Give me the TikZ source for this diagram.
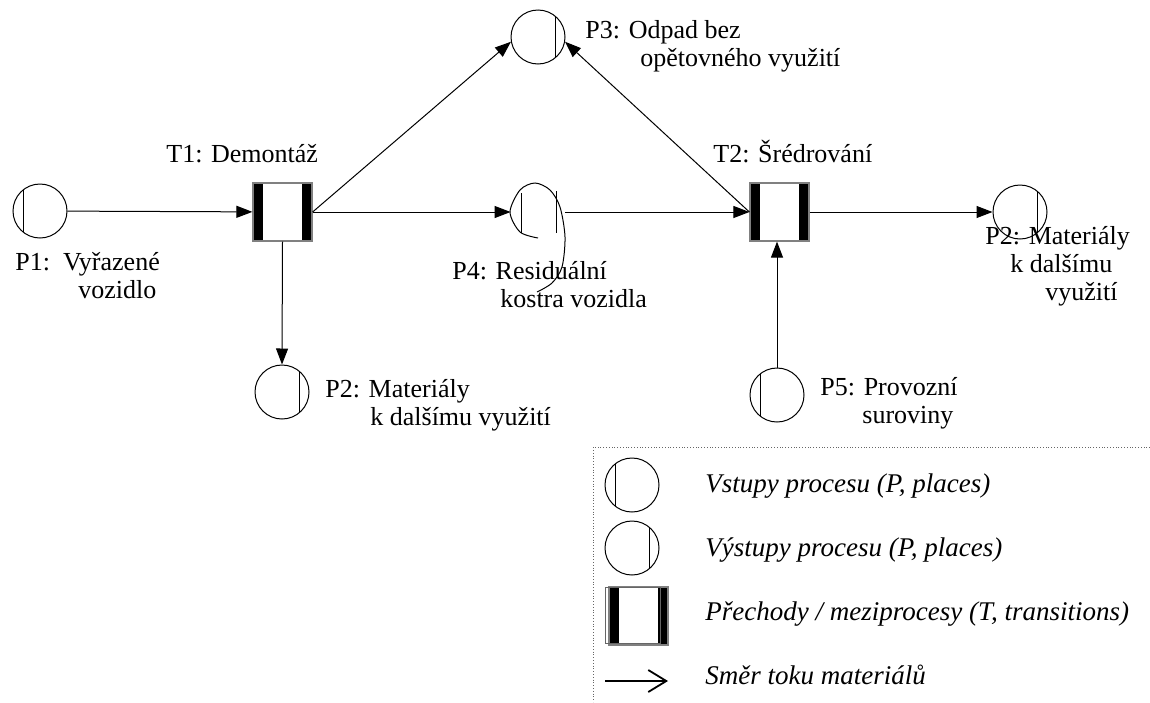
\documentclass[tikz,border=0pt]{standalone}
\usepackage{fontspec}
\setmainfont{Liberation Serif}
\usepackage{tikz}
\usetikzlibrary{arrows.meta,calc}

\begin{document}
\begin{tikzpicture}[
  x=0.5pt,y=-0.5pt,
  place/.style={circle,draw,line width=0.5pt,minimum size=27pt,inner sep=0pt},
  inplace/.style={place,path picture={\draw[line width=0.5pt]
      ([xshift=-8.5pt,yshift=-14pt]path picture bounding box.center) -- ++(0,28pt);}},
  outplace/.style={place,path picture={\draw[line width=0.5pt]
      ([xshift=8.5pt,yshift=-14pt]path picture bounding box.center) -- ++(0,28pt);}},
  trans/.style={rectangle,draw=black!50,line width=0.6pt,minimum width=29.5pt,
      minimum height=29pt,inner sep=0pt,
      path picture={\fill (path picture bounding box.north west) rectangle
          ([xshift=5pt]path picture bounding box.south west);
        \fill (path picture bounding box.north east) rectangle
          ([xshift=-5pt]path picture bounding box.south east);}},
  lbl/.style={anchor=base west,align=left,inner sep=0pt,font=\fontsize{13}{14}\selectfont},
  leglbl/.style={lbl,font=\fontsize{13.5}{14}\selectfont\itshape},
  flow/.style={-{Triangle[length=8pt,width=6pt]},line width=0.5pt},
  legarrow/.style={-{Straight Barb[length=9pt,width=11pt]},line width=0.9pt}
]
  \useasboundingbox (0,0) rectangle (1150,702);

  % places and transitions
  \node[inplace] (p1) at (40,211) {};
  \node[trans] (t1) at (282.5,212) {};
  \node[outplace] (p3) at (538,37) {};
  \node[circle,minimum size=27pt,inner sep=0pt] (p4) at (538,212) {};
  \node[trans] (t2) at (779.5,212) {};
  \node[outplace] (p2r) at (1020,212) {};
  \node[outplace] (p2b) at (282,392) {};
  \node[inplace] (p5) at (777,395) {};

  % the odd outline of P4
  \draw[line width=0.5pt] plot[smooth] coordinates {(538,238) (520,232) (510,212) (520,190)
    (535,183) (550,190) (560,207) (565,237) (562,267) (552,283) (537,292)};
  \draw[line width=0.5pt] (521,193) -- (521,233) (556,191) -- (556,233);

  % labels (anchor = baseline of the last line)
  \node[lbl] (t1lbl) at (166,162) {T1: Demontáž};
  \node[lbl] (t2lbl) at (713,162) {T2: Šrédrování};
  \node[lbl] (p1lbl) at (15,298) {P1:\ \ Vyřazené\\\hspace*{31.5pt}vozidlo};
  \node[lbl] (p3lbl) at (585,66) {P3: Odpad bez\\\hspace*{27.5pt}opětovného využití};
  \node[lbl] (p4lbl) at (452,307) {P4: Residuální\\\hspace*{24pt}kostra vozidla};
  \node[lbl] (p2blbl) at (325,425) {P2: Materiály\\\hspace*{22.5pt}k dalšímu využití};
  \node[lbl] (p5lbl) at (820,423) {P5: Provozní\\\hspace*{21pt}suroviny};
  \node[lbl] (p2rlbl) at (985,300) {P2: Materiály\\\hspace*{12.5pt}k dalšímu\\\hspace*{30pt}využití};

  % material flow
  \draw[flow] (p1) -- (t1);
  \draw[flow] (t1) -- (p4);
  \draw[flow] (t1.south) -- (p2b.north);
  \draw[flow] (t1.east) -- (p3.190);
  \draw[flow] (p4) -- (t2);
  \draw[flow] (t2.west) -- (p3.-10);
  \draw[flow] (t2) -- (p2r);
  \draw[flow] (p5.north) -- (p5.north |- t2.south);

  % legend
  \draw[densely dotted,black!60] (1150,447) -| (593,702);
  \node[inplace] (legin) at (632,485) {};
  \node[outplace] (legout) at (632,548) {};
  \node[trans] (legt) at (638.5,616) {};
  \draw[black!60,line width=0.5pt] ($(legt.north west)+(-3,1)$) rectangle ($(legt.south east)+(-8,-2)$);
  \coordinate (legfrom) at (605,681);
  \coordinate (legto) at (668,681);
  \draw[legarrow] (legfrom) -- (legto);
  \node[leglbl] (leginlbl) at (705,492) {Vstupy procesu (P, places)};
  \node[leglbl] (legoutlbl) at (705,556) {Výstupy procesu (P, places)};
  \node[leglbl] (legtlbl) at (705,620) {Přechody / meziprocesy (T, transitions)};
  \node[leglbl] (legflbl) at (705,684) {Směr toku materiálů};
\end{tikzpicture}
\end{document}
